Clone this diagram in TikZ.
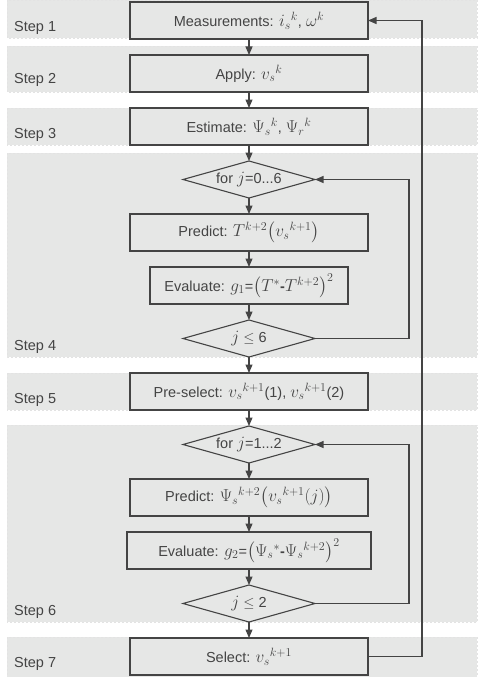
\documentclass[tikz,border=0pt]{standalone}
\usepackage{amsmath}
\usepackage{amssymb}
\usepackage{fontspec}
\setmainfont{Liberation Sans}
\usepackage{tikz}
\usetikzlibrary{positioning, chains, shapes.geometric}
\usetikzlibrary{arrows.meta}
\tikzset{>={Triangle[width=7pt,length=8.5pt]}}
\definecolor{bandgray}{RGB}{230,231,230}
\definecolor{linegray}{RGB}{68,68,68}
\newcommand{\bigmath}[1]{{\fontsize{17.5}{18}\selectfont$#1$}}

\begin{document}
\begin{tikzpicture}[
    x = 1pt, y = -1pt,
    node distance = 16pt,
    start chain = going below,
    font = \fontsize{14.5}{16}\selectfont,
    band/.style = {fill=bandgray, draw=gray!22, dash pattern=on 2pt off 2pt, line width=0.5pt},
    box/.style = {draw=linegray, line width=1.1pt, fill=bandgray, minimum width=238pt,
        minimum height=37pt, inner sep=0pt, outer sep=0mm, on chain, text=linegray},
    test/.style = {diamond, aspect=3.5, draw=linegray, line width=1.1pt, fill=bandgray,
        minimum width=132pt, minimum height=37pt, inner sep=0pt, outer sep=0mm, on chain,
        text=linegray},
    steplabel/.style = {anchor=west, inner sep=0pt, text=linegray},
    flow/.style = {->, draw=linegray, line width=1.1pt}
  ]
  \useasboundingbox (0,0) rectangle (477,677);

  \foreach \t/\b in {0/38, 46/92, 108/145, 153/357, 373/410, 425/622, 637/677}
  \path[band] (7,\t) rectangle (477,\b);

  \foreach \n/\y in {1/28, 2/80, 3/135, 4/347, 5/400, 6/612, 7/664}
  \node[steplabel] (step\n) at (14,\y) {Step \n};

  \node[box] (meas) at (249,20.5) {Measurements: \bigmath{i_s{}^k}, \bigmath{\omega^k}};
  \node[box] (apply) {Apply: \bigmath{v_s{}^k}};
  \node[box] (est) {Estimate: \bigmath{\Psi_s{}^k}, \bigmath{\Psi_r{}^k}};
  \node[test] (for1) {for \bigmath{j}=0...6};
  \node[box] (pred1) {Predict: \bigmath{T^{k{+}2}\bigl(v_s{}^{k{+}1}\bigr)}};
  \node[box, minimum width=198pt] (eval1) {Evaluate: \bigmath{g_1}=\bigmath{\bigl(T^*}\textbf{-}\bigmath{T^{k{+}2}\bigr)^2}};
  \node[test] (cond1) {\bigmath{j} $\le$ 6};
  \node[box] (presel) {Pre-select: \bigmath{v_s{}^{k{+}1}}(1), \bigmath{v_s{}^{k{+}1}}(2)};
  \node[test] (for2) {for \bigmath{j}=1...2};
  \node[box] (pred2) {Predict: \bigmath{\Psi_s{}^{k{+}2}\bigl(v_s{}^{k{+}1}(j)\bigr)}};
  \node[box, minimum width=244pt] (eval2) {Evaluate: \bigmath{g_2}=\bigmath{\bigl(\Psi_s{}^*}\textbf{-}\bigmath{\Psi_s{}^{k{+}2}\bigr)^2}};
  \node[test] (cond2) {\bigmath{j} $\le$ 2};
  \node[box] (sel) {Select: \bigmath{v_s{}^{k{+}1}}};

  \foreach \a/\b in {meas/apply, apply/est, est/for1, for1/pred1, pred1/eval1, eval1/cond1,
      cond1/presel, presel/for2, for2/pred2, pred2/eval2, eval2/cond2, cond2/sel}
  \draw[flow] (\a) -- (\b);

  \coordinate (innerx) at (409,0);
  \coordinate (outerx) at (422,0);
  \draw[flow] (cond1.east) -- (cond1.east -| innerx) |- (for1.east);
  \draw[flow] (cond2.east) -- (cond2.east -| innerx) |- (for2.east);
  \draw[flow] (sel.east) -- (sel.east -| outerx) |- (meas.east);
\end{tikzpicture}
\end{document}
